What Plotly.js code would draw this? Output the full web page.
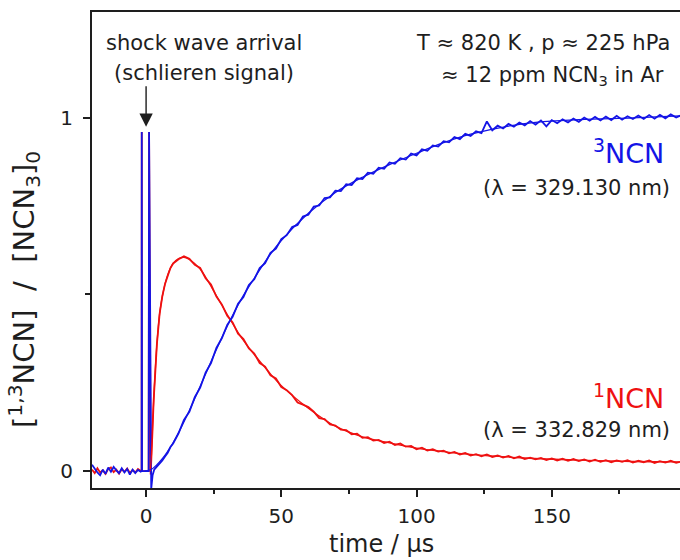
<!DOCTYPE html>
<html><head><meta charset="utf-8">
<script src="https://cdn.plot.ly/plotly-3.0.1.min.js"></script>
<style>html,body{margin:0;padding:0;overflow:hidden;background:#fff;width:680px;height:560px}#chart{width:700px;height:560px}</style>
</head><body><div id="chart"></div>
<script>
// time in microseconds, normalised concentrations
const timeBase = [-20,-19,-18,-17,-16,-15,-14,-13,-12,-11,-10,-9,-8,-7,-6,-5,-4,-3,-2];
const redBase  = [0.004,-0.006,0.008,-0.004,0.002,-0.008,0.006,0.010,-0.003,0.004,-0.007,0.005,-0.002,0.007,-0.005,0.003,-0.004,0.006,0.000];
const blueBase = [0.018,0.006,-0.004,-0.012,0.004,-0.008,0.010,-0.002,0.012,0.002,-0.006,0.008,-0.004,0.006,-0.010,0.004,-0.006,0.003,-0.002];

// schlieren spikes (shock wave arrival)
const timeSpike  = [-1.65,-1.6,-1.5,0.95,1.1];
const ratioSpike = [0,0.96,0,0,0.96];

const timeRedEarly = [1.7,2.0,2.4,2.8,3.2,3.6,4,5,6,7,8,9,10];
const redEarly     = [-0.01,0.03,0.12,0.2,0.26,0.31,0.36,0.445,0.495,0.53,0.555,0.575,0.588];
const timeBlueEarly = [1.9,2.4,3,4,5,6,7,8,9,10];
const blueEarly     = [-0.05,-0.012,0.004,0.012,0.02,0.03,0.041,0.052,0.068,0.078];

const timeMain = [12,14,16,18,20,22,24,26,28,30,32,34,36,38,40,42,44,46,48,50,
  52,54,56,58,60,62,64,66,68,70,72,74,76,78,80,82,84,86,88,90,
  92,94,96,98,100,102,104,106,108,110,112,114,116,118,120,122,124,126,128,130,
  132,134,136,138,140,142,144,146,148,150,152,154,156,158,160,162,164,166,168,170,
  172,174,176,178,180,182,184,186,188,190,192,194,196,198];
const redMain = [0.600,0.608,0.601,0.584,0.575,0.546,0.528,0.494,0.472,0.440,
  0.421,0.389,0.374,0.347,0.333,0.306,0.296,0.271,0.262,0.238,
  0.229,0.215,0.194,0.188,0.181,0.168,0.150,0.147,0.132,0.129,
  0.117,0.116,0.104,0.106,0.094,0.096,0.086,0.088,0.079,0.083,
  0.074,0.078,0.069,0.071,0.062,0.066,0.058,0.062,0.055,0.058,
  0.050,0.054,0.047,0.051,0.044,0.048,0.042,0.047,0.040,0.044,
  0.038,0.043,0.036,0.041,0.034,0.038,0.033,0.037,0.031,0.036,
  0.030,0.035,0.029,0.034,0.028,0.033,0.027,0.032,0.026,0.031,
  0.025,0.030,0.026,0.031,0.024,0.029,0.025,0.030,0.023,0.028,
  0.024,0.029,0.023,0.027];
const blueMain = [0.107,0.145,0.168,0.209,0.236,0.279,0.306,0.349,0.376,0.414,
  0.437,0.474,0.493,0.527,0.543,0.575,0.589,0.618,0.630,0.657,
  0.668,0.691,0.697,0.721,0.726,0.749,0.752,0.773,0.775,0.794,
  0.793,0.812,0.810,0.829,0.827,0.845,0.842,0.859,0.856,0.874,
  0.870,0.886,0.882,0.899,0.894,0.911,0.907,0.922,0.919,0.934,
  0.931,0.946,0.940,0.955,0.949,0.962,0.957,0.990,0.965,0.978,
  0.970,0.983,0.975,0.987,0.979,0.991,0.981,0.993,0.976,0.994,
  0.985,0.996,0.987,0.998,0.989,1.001,0.992,1.003,0.993,1.004,
  0.994,1.006,0.995,1.005,0.997,1.007,0.997,1.008,0.998,1.009,
  0.999,1.010,1.001,1.008];

// fitted curves
const timeRedFit = [1.6,2,2.5,3,3.5,4,5,6,8,10,12,14,16,20,25,30,35,40,45,50,60,70,80,90,100,110,120,140,160,180,198];
const redFit     = [0,0.05,0.15,0.23,0.30,0.36,0.445,0.495,0.556,0.588,0.602,0.605,0.599,0.572,0.51,0.443,0.381,0.33,0.284,0.242,0.178,0.127,0.097,0.08,0.065,0.055,0.047,0.037,0.031,0.027,0.026];
const timeBlueFit = [-0.5,2,4,6,8,10,15,20,25,30,35,40,45,50,60,70,80,90,100,110,120,140,160,180,198];
const blueFit     = [0,0.005,0.018,0.035,0.056,0.08,0.155,0.24,0.327,0.41,0.484,0.546,0.604,0.653,0.73,0.789,0.832,0.868,0.9,0.93,0.954,0.984,0.995,1.0,1.006];

const xTicks = [0, 50, 100, 150, 200];
const xMinorTicks = [25, 75, 125, 175];
const yTicks = [0, 1];
const yMinorTicks = [0.5];

const RED = '#ee1111', BLUE = '#1414e6', INK = '#1e1e1e';
const FONT = 'DejaVu Sans, Arial, sans-serif';

const traces = [
  {x: timeBase.concat(timeSpike, timeRedEarly, timeMain), y: redBase.concat(ratioSpike, redEarly, redMain),
   mode: 'lines', line: {color: RED, width: 1.8}},
  {x: timeBase.concat(timeSpike, timeBlueEarly, timeMain), y: blueBase.concat(ratioSpike, blueEarly, blueMain),
   mode: 'lines', line: {color: BLUE, width: 1.8}},
  {x: timeRedFit, y: redFit, mode: 'lines', line: {color: RED, width: 1.3, shape: 'spline'}},
  {x: timeBlueFit, y: blueFit, mode: 'lines', line: {color: BLUE, width: 1.3, shape: 'spline'}}
];

function px(x){return (x-92)/595;}
function py(y){return (488-y)/476;}

const ann = (text, x, y, opts) => Object.assign({text: text, xref: 'paper', yref: 'paper', x: px(x), y: py(y),
  xanchor: 'right', yanchor: 'middle', showarrow: false, font: {family: FONT, size: 21, color: INK}}, opts || {});

const layout = {
  width: 700, height: 560,
  margin: {l: 92, r: 13, t: 12, b: 72},
  paper_bgcolor: '#fff', plot_bgcolor: '#fff',
  showlegend: false,
  font: {family: FONT, color: INK},
  xaxis: {range: [-20, 200], tickmode: 'array', tickvals: xTicks, ticktext: xTicks.map(String),
    ticks: 'outside', ticklen: 7, tickwidth: 2, tickcolor: INK,
    minor: {tickmode: 'array', tickvals: xMinorTicks, ticks: 'outside', ticklen: 4, tickwidth: 2, tickcolor: INK},
    showline: true, linewidth: 2, linecolor: INK, mirror: true, showgrid: false, zeroline: false,
    tickfont: {family: FONT, size: 20, color: INK}, ticklabelstandoff: 2},
  yaxis: {range: [-0.048, 1.30], tickmode: 'array', tickvals: yTicks, ticktext: yTicks.map(String),
    ticks: 'outside', ticklen: 7, tickwidth: 2, tickcolor: INK,
    minor: {tickmode: 'array', tickvals: yMinorTicks, ticks: 'outside', ticklen: 5, tickwidth: 2, tickcolor: INK},
    showline: true, linewidth: 2, linecolor: INK, mirror: true, showgrid: false, zeroline: false,
    tickfont: {family: FONT, size: 20, color: INK}, ticklabelstandoff: 6},
  annotations: [
    ann('shock wave arrival', 204, 43, {xanchor: 'center'}),
    ann('(schlieren signal)', 204, 73, {xanchor: 'center'}),
    {x: 0, y: 0.975, xref: 'x', yref: 'y', text: '', showarrow: true, ax: 0, ay: -42,
     arrowhead: 2, arrowsize: 1.9, arrowwidth: 1.4, arrowcolor: INK, standoff: 0},
    ann('T ≈ 820 K , p ≈ 225 hPa', 672, 43),
    ann('≈ 12 ppm NCN<sub>3</sub> in Ar', 666, 76),
    ann('<sup>3</sup>NCN', 666, 152, {font: {family: FONT, size: 27, color: BLUE}}),
    ann('(λ = 329.130 nm)', 672, 188),
    ann('<sup>1</sup>NCN', 666, 396, {font: {family: FONT, size: 27, color: RED}}),
    ann('(λ = 332.829 nm)', 672, 430),
    ann('time / μs', 381, 544, {xanchor: 'center', font: {family: FONT, size: 24, color: INK}}),
    ann('[<sup>1,3</sup>NCN]  /  [NCN<sub>3</sub>]<sub>0</sub>', 24, 290,
        {xanchor: 'center', textangle: -90, font: {family: FONT, size: 29, color: INK}})
  ]
};

Plotly.newPlot('chart', traces, layout, {displayModeBar: false, staticPlot: true});
</script></body></html>
